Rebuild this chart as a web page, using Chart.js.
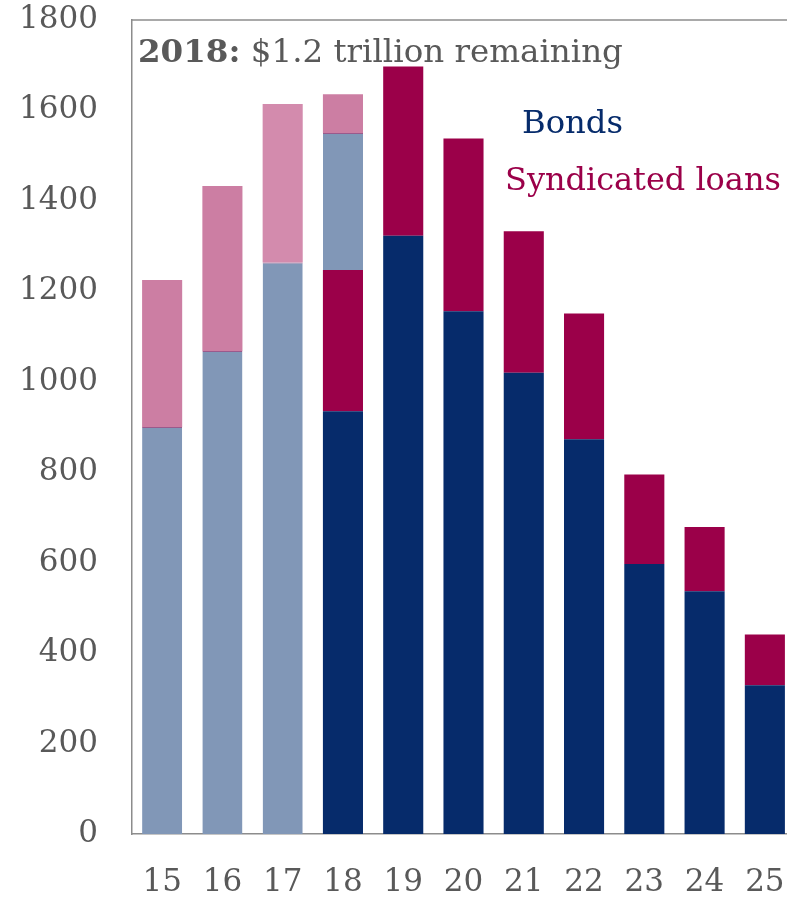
<!DOCTYPE html>
<html>
<head>
<meta charset="utf-8">
<script src="https://cdn.jsdelivr.net/npm/chart.js@4"></script>
<style>
  html, body { margin: 0; padding: 0; background: #fff; overflow: hidden; }
  #wrap { width: 800px; height: 900px; position: relative; }
</style>
</head>
<body>
<div id="wrap"><canvas id="c"></canvas></div>
<script>
// ---- data ----
const categories = ['15', '16', '17', '18', '19', '20', '21', '22', '23', '24', '25'];
const bondsCurrent  = [null, null, null, 935, 1323, 1156, 1020, 873, 597, 537, 329];
const loansCurrent  = [null, null, null, 312, 374, 382, 313, 278, 198, 142, 112];
const bondsMatured  = [900, 1068, 1264, 303, null, null, null, null, null, null, null];
const loansMatured  = [325, 365, 350, 86, null, null, null, null, null, null, null];
const yMin = 0, yMax = 1800, yStep = 200;
const annotationBold = '2018:';
const annotationText = ' $1.2 trillion remaining';
const legendBonds = 'Bonds';
const legendLoans = 'Syndicated loans';

// ---- styles ----
const NAVY = '#062B6B', CRIMSON = '#9B0049', LIGHTBLUE = '#8197B7';
const PINK = ['#CC7EA3', '#CC7EA3', '#D38BAD', '#CC7EA3', '#CC7EA3', '#CC7EA3', '#CC7EA3', '#CC7EA3', '#CC7EA3', '#CC7EA3', '#CC7EA3'];
const GREY = '#595959', AXIS = '#8c8c8c';
const SERIF = '"DejaVu Serif", "Liberation Serif", serif';

function fitSize(ctx, parts, target, base) {
  let w = 0;
  parts.forEach(p => { ctx.font = p.weight + ' ' + base + 'px ' + SERIF; w += ctx.measureText(p.text).width; });
  return base * target / w;
}

const textPlugin = {
  id: 'textPlugin',
  afterDraw(chart) {
    const ctx = chart.ctx, a = chart.chartArea;
    ctx.save();
    // top border of plot frame
    ctx.strokeStyle = AXIS; ctx.lineWidth = 1.5;
    ctx.beginPath(); ctx.moveTo(a.left, a.top); ctx.lineTo(a.right, a.top); ctx.stroke();

    ctx.textBaseline = 'alphabetic';
    ctx.textAlign = 'left';
    // annotation
    const parts = [{text: annotationBold, weight: 'bold'}, {text: annotationText, weight: 'normal'}];
    const s = fitSize(ctx, parts, 485, 30);
    let x = 138;
    ctx.fillStyle = GREY;
    parts.forEach(p => {
      ctx.font = p.weight + ' ' + s + 'px ' + SERIF;
      ctx.fillText(p.text, x, 62);
      x += ctx.measureText(p.text).width;
    });
    // legend labels
    const s1 = fitSize(ctx, [{text: legendBonds, weight: 'normal'}], 101, 30);
    ctx.font = 'normal ' + s1 + 'px ' + SERIF;
    ctx.fillStyle = NAVY;
    ctx.fillText(legendBonds, 522, 133);
    const s2 = fitSize(ctx, [{text: legendLoans, weight: 'normal'}], 276, 30);
    ctx.font = 'normal ' + s2 + 'px ' + SERIF;
    ctx.fillStyle = CRIMSON;
    ctx.fillText(legendLoans, 505, 190);
    ctx.restore();
  }
};

const common = { categoryPercentage: 1.0, barPercentage: 0.665, borderSkipped: 'start' };

new Chart(document.getElementById('c'), {
  type: 'bar',
  data: {
    labels: categories,
    datasets: [
      Object.assign({ label: 'Bonds', data: bondsCurrent, backgroundColor: NAVY }, common),
      Object.assign({ label: 'Syndicated loans', data: loansCurrent, backgroundColor: CRIMSON }, common),
      Object.assign({ label: 'Bonds (matured)', data: bondsMatured, backgroundColor: LIGHTBLUE,
        borderColor: '#9a5a8c', borderWidth: {top: 1, left: 0, right: 0, bottom: 0} }, common),
      Object.assign({ label: 'Syndicated loans (matured)', data: loansMatured, backgroundColor: PINK }, common)
    ]
  },
  options: {
    responsive: true,
    maintainAspectRatio: false,
    animation: false,
    devicePixelRatio: 1,
    layout: { padding: { top: 20, right: 5, left: 0, bottom: 0 } },
    plugins: { legend: { display: false }, tooltip: { enabled: false } },
    scales: {
      x: {
        stacked: true,
        grid: { display: false, drawTicks: false },
        border: { display: true, color: AXIS, width: 1.5 },
        ticks: { color: GREY, font: { family: SERIF, size: 31 }, padding: 30, maxRotation: 0, autoSkip: false },
        afterFit(s) { s.height = 66; s.paddingLeft = 0; s.paddingRight = 0; }
      },
      y: {
        stacked: true,
        min: yMin, max: yMax,
        grid: { display: false, drawTicks: false },
        border: { display: true, color: AXIS, width: 1.5 },
        ticks: { stepSize: yStep, color: GREY, font: { family: SERIF, size: 31 }, padding: 34,
          callback: v => String(v) },
        afterFit(s) { s.width = 132; s.paddingTop = 0; s.paddingBottom = 0; }
      }
    }
  },
  plugins: [textPlugin]
});
</script>
</body>
</html>
